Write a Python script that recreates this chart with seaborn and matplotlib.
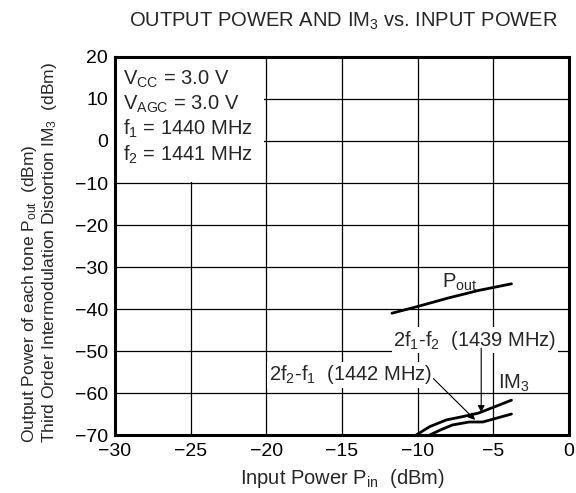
import matplotlib
matplotlib.use("Agg")
import matplotlib.pyplot as plt
import seaborn as sns
from matplotlib.patches import Rectangle

# values
pin_pout = [-11.7, -10.0, -8.0, -6.0, -3.8]
pout = [-41.0, -39.4, -37.4, -35.6, -34.0]

pin_im3_upper = [-10.1, -9.2, -8.1, -7.0, -6.0, -5.0, -3.8]   # 2f1-f2
im3_upper = [-70.0, -68.0, -66.4, -65.6, -64.8, -63.4, -61.7]

pin_im3_lower = [-9.2, -8.5, -7.7, -6.6, -5.7, -4.8, -3.8]    # 2f2-f1
im3_lower = [-70.0, -68.8, -67.6, -66.9, -66.9, -66.0, -65.0]

x_ticks = [-30, -25, -20, -15, -10, -5, 0]
y_ticks = [20, 10, 0, -10, -20, -30, -40, -50, -60, -70]

sns.set_theme(style="white")
plt.rcParams["font.family"] = ["Liberation Sans", "DejaVu Sans"]
plt.rcParams["mathtext.default"] = "regular"

fig = plt.figure(figsize=(5.76, 4.93), dpi=100)
ax = fig.add_axes([0.1997, 0.1176, 0.7881, 0.7668])

ax.set_axisbelow(True)
ax.grid(True, color="black", linewidth=0.9)

# white block under the condition text
ax.add_patch(Rectangle((-30, -9.85), 9.85, 29.85, facecolor="white",
                       edgecolor="none", zorder=1))

lw = 2.0
sns.lineplot(x=pin_pout, y=pout, ax=ax, color="black", linewidth=lw, sort=False)
sns.lineplot(x=pin_im3_upper, y=im3_upper, ax=ax, color="black", linewidth=lw, sort=False)
sns.lineplot(x=pin_im3_lower, y=im3_lower, ax=ax, color="black", linewidth=lw, sort=False)

ax.set_xlim(-30, 0)
ax.set_ylim(-70, 20)
ax.set_xticks(x_ticks)
ax.set_yticks(y_ticks)
ax.tick_params(axis="both", length=0, labelsize=14, colors="black")
ax.tick_params(axis="x", pad=6)
ax.tick_params(axis="y", pad=5)
for s in ax.spines.values():
    s.set_linewidth(2.2)
    s.set_color("black")

ax.set_xlabel("Input Power P$_{in}$  (dBm)", fontsize=14.5, labelpad=5)

fig.text(0.068, 0.102,
         "Output Power of each tone P$_{out}$  (dBm)\n"
         "Third Order Intermodulation Distortion IM$_3$  (dBm)",
         rotation=90, ha="center", va="bottom", multialignment="left",
         fontsize=12.5, linespacing=1.05)

fig.text(0.969, 0.957, "OUTPUT POWER AND IM$_3$ vs. INPUT POWER",
         ha="right", va="center", fontsize=14.5)

ax.text(-29.5, 17.2,
        "V$_{CC}$ = 3.0 V\nV$_{AGC}$ = 3.0 V\nf$_1$ = 1440 MHz\nf$_2$ = 1441 MHz",
        ha="left", va="top", fontsize=14.5, linespacing=1.2, zorder=3)

ax.text(-8.4, -33.6, "P$_{out}$", ha="left", va="center", fontsize=14.5)
ax.text(-4.7, -57.6, "IM$_3$", ha="left", va="center", fontsize=14.5)

box = dict(facecolor="white", edgecolor="none", pad=1.0)
ax.text(-11.6, -47.4, "2f$_1$-f$_2$  (1439 MHz)", ha="left", va="center",
        fontsize=14.5, bbox=box, zorder=3)
ax.annotate("", xy=(-5.8, -64.6), xytext=(-5.8, -49.3),
            arrowprops=dict(arrowstyle="-|>", color="black", lw=0.8,
                            mutation_scale=10, shrinkA=0, shrinkB=0))

ax.annotate("2f$_2$-f$_1$  (1442 MHz)", xy=(-6.2, -66.4), xytext=(-9.05, -55.7),
            ha="right", va="center", fontsize=14.5, bbox=box, zorder=3,
            arrowprops=dict(arrowstyle="-|>", color="black", lw=0.8,
                            mutation_scale=10, shrinkA=0, shrinkB=0,
                            relpos=(1.0, 0.4)))

fig.savefig("out.png", dpi=100)
